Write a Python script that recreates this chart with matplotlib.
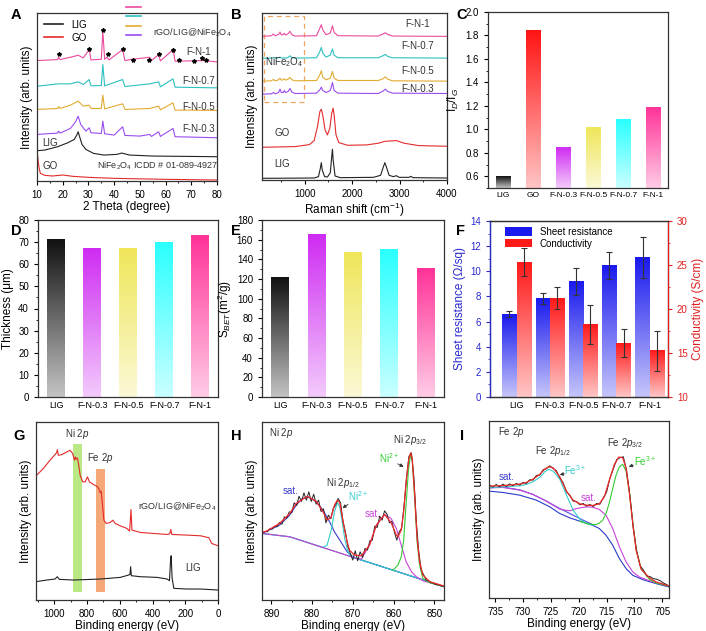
import matplotlib as mpl
mpl.use('Agg')

mpl.rcParams['font.family'] = ['Liberation Sans', 'DejaVu Sans']
mpl.rcParams['font.size'] = 7
mpl.rcParams['mathtext.fontset'] = 'custom'
mpl.rcParams['mathtext.rm'] = 'Liberation Sans'
mpl.rcParams['mathtext.it'] = 'Liberation Sans:italic'
mpl.rcParams['axes.linewidth'] = 0.9
mpl.rcParams['axes.edgecolor'] = '#333333'
mpl.rcParams['xtick.direction'] = 'out'
mpl.rcParams['ytick.direction'] = 'out'
mpl.rcParams['xtick.major.size'] = 3
mpl.rcParams['ytick.major.size'] = 3
mpl.rcParams['xtick.minor.size'] = 1.5
mpl.rcParams['ytick.minor.size'] = 1.5
mpl.rcParams['xtick.labelsize'] = 7
mpl.rcParams['ytick.labelsize'] = 7
mpl.rcParams['axes.labelsize'] = 8.5

import matplotlib.pyplot as plt
import numpy as np
from matplotlib.patches import Rectangle, Patch
from matplotlib.lines import Line2D
from matplotlib.ticker import AutoMinorLocator, MultipleLocator

#----------colors----------#
c_lig = '#222222'
c_go = '#e32b2b'
c_03 = '#9a4cf0'
c_05 = '#e2ab30'
c_07 = '#2cc0c0'
c_1 = '#ea4a9c'

bar_cols = {'LIG': '#111111', 'GO': '#ff1414', 'F-N-0.3': '#cf2cf2',
            'F-N-0.5': '#efe65a', 'F-N-0.7': '#2affff', 'F-N-1': '#ff3399'}

#----------A: XRD----------#
xrd_go_x = [10, 10.3, 10.8, 11.3, 13, 16, 20, 24, 30, 40, 60, 80]
xrd_go_y = [93, 70, 40, 23, 17, 15, 18, 14, 11, 8, 5, 3]
xrd_lig_x = [10, 13, 18, 22, 24.5, 25.6, 26, 26.5, 27.5, 29, 32, 36, 41, 43, 46, 55, 80]
xrd_lig_y = [91, 93, 103, 115, 125, 140, 148, 135, 110, 95, 83, 78, 80, 84, 78, 75, 73]
xrd_03_x = [10, 18, 18.4, 19, 23, 25, 26, 27, 29, 30.3, 31, 35, 35.6, 36.3, 40, 43.3, 44.2, 50, 53.8, 54.5, 57.3, 58, 62.9, 63.7, 70, 80]
xrd_03_y = [140, 144, 150, 144, 158, 178, 195, 170, 150, 160, 145, 143, 180, 142, 138, 163, 137, 135, 140, 134, 148, 134, 158, 133, 132, 130]
xrd_05_x = [10, 18, 18.4, 19, 23, 26, 28, 30.3, 31, 35, 35.6, 36.3, 43.3, 44.2, 53.8, 57.3, 58, 62.9, 63.7, 70, 80]
xrd_05_y = [215, 218, 224, 218, 228, 240, 225, 228, 218, 218, 258, 217, 232, 215, 218, 225, 214, 235, 213, 213, 212]
xrd_07_x = [10, 18.4, 23, 26, 28, 30.3, 31, 35, 35.6, 36.3, 43.3, 44.2, 53.8, 57.3, 58, 62.9, 63.7, 80]
xrd_07_y = [285, 292, 292, 298, 290, 305, 286, 287, 350, 286, 305, 284, 292, 298, 283, 307, 282, 280]
xrd_1_x = [10, 18, 18.4, 19, 23, 26, 28, 30.3, 31, 35, 35.6, 36.3, 37.2, 38, 43.3, 44.2, 47, 53.8, 54.5, 57.3, 58, 62.9, 63.7, 75, 80]
xrd_1_y = [362, 365, 372, 365, 372, 378, 370, 395, 364, 366, 450, 366, 372, 364, 395, 362, 366, 372, 362, 380, 361, 395, 360, 362, 358]
star_x = [18.7, 30.2, 35.6, 37.5, 43.3, 47.2, 53.4, 57.3, 62.9, 65.4, 71.2, 74.3, 75.7]
star_y = [381, 398, 455, 381, 398, 365, 365, 381, 395, 363, 360, 371, 363]

#----------B: Raman----------#
ram_lig_x = [100, 1200, 1290, 1330, 1350, 1370, 1420, 1480, 1540, 1570, 1585, 1600, 1640, 1750, 2450, 2600, 2660, 2690, 2720, 2780, 2870, 2930, 2990, 3200, 3240, 3280, 4000]
ram_lig_y = [5, 6, 10, 35, 52, 30, 10, 9, 22, 70, 92, 60, 12, 7, 8, 14, 40, 52, 40, 14, 10, 13, 8, 8, 11, 7, 6]
ram_go_x = [100, 800, 1100, 1200, 1270, 1320, 1350, 1380, 1430, 1480, 1530, 1570, 1600, 1620, 1660, 1720, 1900, 2300, 2550, 2700, 2930, 3100, 3400, 4000]
ram_go_y = [98, 100, 106, 118, 160, 205, 212, 195, 150, 135, 155, 200, 215, 195, 135, 112, 104, 105, 110, 116, 118, 110, 103, 101]
ram_fn_x = [100, 300, 340, 380, 450, 480, 510, 550, 570, 600, 650, 690, 730, 800, 1250, 1320, 1350, 1380, 1450, 1540, 1585, 1620, 1700, 2550, 2650, 2700, 2750, 2850, 4000]
ram_03_y = [257, 258, 262, 258, 262, 272, 262, 262, 268, 262, 265, 274, 263, 259, 260, 270, 278, 268, 262, 268, 292, 268, 260, 259, 266, 272, 265, 260, 259]
ram_05_y = [296, 297, 301, 297, 300, 305, 299, 300, 303, 299, 302, 307, 300, 297, 298, 315, 327, 308, 300, 305, 325, 305, 298, 298, 303, 309, 302, 297, 296]
ram_07_y = [364, 365, 366, 365, 366, 368, 365, 365, 366, 365, 367, 372, 366, 365, 366, 385, 397, 380, 368, 374, 392, 374, 366, 366, 372, 376, 370, 366, 365]
ram_1_y = [430, 432, 437, 432, 436, 443, 434, 436, 439, 434, 438, 445, 435, 431, 432, 455, 465, 450, 435, 440, 462, 442, 432, 431, 437, 441, 436, 431, 430]

#----------C: ID/IG----------#
idig_names = ['LIG', 'GO', 'F-N-0.3', 'F-N-0.5', 'F-N-0.7', 'F-N-1']
idig_vals = [0.60, 1.84, 0.845, 1.015, 1.08, 1.185]

#----------D, E, F----------#
samples = ['LIG', 'F-N-0.3', 'F-N-0.5', 'F-N-0.7', 'F-N-1']
thickness = [71, 67, 67, 70, 73]
sbet = [122, 165, 146.5, 149.5, 131]
sheet_res = [6.58, 7.85, 9.22, 10.46, 11.1]
sheet_err = [0.23, 0.46, 1.07, 1.11, 1.6]
conduct = [25.3, 21.2, 18.26, 16.1, 15.25]
conduct_err = [1.6, 1.25, 2.2, 1.6, 2.25]

#----------G: XPS survey----------#
xps_nf_x = [1112.5, 1067.5, 1026.6, 995.9, 985.7, 981.6, 975.5, 955.0, 924.3, 903.9, 887.5, 877.3, 871.2, 867.1, 858.9, 850.7, 842.5, 826.2, 811.9, 797.5, 785.3, 760.7, 740.3, 728.0, 719.8, 713.7, 705.5, 697.3, 683.0, 658.5, 642.1, 627.8, 597.1, 556.2, 539.9, 531.7, 525.6, 474.4, 392.6, 310.8, 294.5, 288.3, 282.2, 188.1, 106.4, 55.2, 38.9, 0]
xps_nf_y = [373, 395, 420, 437, 443, 452, 435, 437, 445, 450, 440, 420, 430, 423, 427, 405, 375, 355, 355, 370, 355, 347, 342, 335, 323, 327, 285, 240, 230, 233, 240, 230, 223, 215, 207, 272, 210, 203, 200, 197, 199, 212, 197, 195, 193, 187, 170, 163]
xps_lig_x = [1112.5, 1047, 996, 981.6, 969.3, 883.4, 719.8, 597.1, 546, 537.8, 533.7, 529.7, 474.4, 372.2, 310.8, 296.5, 290.4, 286.3, 280.2, 270, 188.1, 106.4, 0]
xps_lig_y = [55, 60, 63, 70, 62, 60, 63, 68, 75, 77, 100, 73, 70, 68, 63, 58, 115, 133, 65, 35, 33, 33, 30]

#----------H: Ni 2p----------#
ni_bg_x = [892.3, 885.5, 847.6]
ni_bg_y = [200, 190, 40]
ni_sat1_x = [892.3, 888.0, 885.5, 883.9, 882.6, 881.2, 880.2, 879.0, 877.3, 875.7, 874.5, 873.2, 871.4, 870.0, 869.1, 847.6]
ni_sat1_y = [200, 225, 255, 285, 303, 310, 305, 295, 270, 235, 205, 180, 145, 130, 125, 40]
ni_p12_x = [892.3, 885.5, 877.3, 876.3, 875.3, 874.5, 873.8, 873.2, 872.6, 872.0, 871.4, 870.8, 869.1, 847.6]
ni_p12_y = [200, 190, 158, 165, 210, 265, 293, 280, 235, 185, 155, 135, 125, 40]
ni_sat2_x = [892.3, 885.5, 869.1, 867.9, 865.9, 864.2, 862.2, 860.6, 859.3, 858.1, 856.9, 855.6, 854.4, 852.8, 851.1, 847.6]
ni_sat2_y = [200, 190, 125, 123, 165, 225, 257, 245, 215, 165, 115, 85, 70, 58, 52, 40]
ni_p32_x = [860.1, 858.9, 858.1, 857.5, 856.9, 856.3, 855.8, 855.4, 854.8, 854.2, 853.6, 852.8, 851.1, 847.6]
ni_p32_y = [90, 105, 130, 180, 290, 395, 437, 420, 305, 175, 105, 65, 52, 40]
ni_fit_x = [892.3, 891.2, 888.0, 885.5, 883.9, 881.2, 879.0, 877.3, 876.3, 875.3, 874.5, 873.8, 873.2, 872.6, 872.0, 871.4, 870.8, 869.6, 867.9, 865.9, 864.2, 862.2, 860.6, 859.3, 858.9, 858.1, 857.5, 856.9, 856.3, 855.8, 855.4, 854.8, 854.2, 853.6, 852.8, 851.1, 847.6]
ni_fit_y = [203, 207, 230, 260, 290, 312, 297, 265, 240, 250, 285, 300, 293, 250, 210, 175, 150, 135, 133, 165, 225, 257, 233, 195, 190, 210, 265, 355, 420, 442, 425, 315, 185, 115, 75, 55, 42]
ni_raw_x = [892.3, 891.6, 891.0, 890.4, 889.8, 889.2, 888.6, 888.0, 887.4, 886.8, 886.2, 885.6, 885.0, 884.4, 883.8, 883.2, 882.6, 882.0, 881.4, 880.8, 880.2, 879.6, 879.0, 878.4, 877.8, 877.2, 876.6, 876.0, 875.4, 874.8, 874.2, 873.6, 873.0, 872.4, 871.8, 871.2, 870.6, 870.0, 869.4, 868.8, 868.2, 867.6, 867.0, 866.4, 865.8, 865.2, 864.6, 864.0, 863.4, 862.8, 862.2, 861.6, 861.0, 860.4, 859.8, 859.2, 858.6, 858.0, 857.4, 856.8, 856.2, 855.6, 855.0, 854.4, 853.8, 853.2, 852.6, 852.0, 851.4, 850.8, 850.2, 849.6, 849.0, 848.4, 847.8]
ni_raw_y = [200, 206, 205, 214, 213, 222, 220, 233, 228, 250, 246, 265, 262, 292, 284, 312, 296, 322, 300, 325, 296, 318, 288, 300, 266, 274, 232, 255, 244, 275, 286, 305, 292, 236, 204, 160, 140, 120, 148, 118, 145, 128, 155, 150, 178, 180, 222, 218, 252, 240, 268, 258, 232, 236, 205, 180, 205, 216, 285, 368, 432, 442, 370, 236, 145, 90, 76, 60, 58, 52, 51, 46, 46, 43, 41]

#----------I: Fe 2p----------#
fe_bg_x = [736.1, 733.6, 730.6, 727.6, 725.2, 723.4, 721.6, 719.8, 717.5, 716.3, 715.1, 713.9, 712.7, 711.5, 710.3, 708.5, 706.1, 703.8]
fe_bg_y = [320, 316, 308, 293, 273, 253, 240, 230, 218, 208, 188, 158, 118, 88, 68, 55, 43, 33]
fe_sat1_x = [736.1, 733.6, 730.6, 728.2, 725.8, 723.4, 721.0, 719.2, 717.5]
fe_sat1_y = [330, 332, 324, 310, 290, 268, 248, 233, 220]
fe_sat2_x = [736.1, 733.6, 730.6, 728.2, 725.8, 723.4, 721.6, 720.4, 718.7, 717.5, 716.3, 715.1, 713.9, 712.7, 711.5, 710.3, 709.1, 707.9, 706.1, 703.8]
fe_sat2_y = [330, 331, 323, 310, 290, 266, 261, 268, 273, 272, 265, 248, 208, 153, 108, 78, 63, 55, 45, 36]
fe_p12_x = [736.1, 733.6, 730.6, 729.4, 728.2, 727.0, 726.1, 725.4, 724.6, 723.4, 722.2, 721.0, 719.8, 718.6, 717.5]
fe_p12_y = [330, 333, 336, 340, 348, 361, 378, 385, 380, 356, 308, 263, 236, 223, 218]
fe_p32_x = [719.8, 718.6, 717.5, 716.9, 716.3, 715.7, 715.1, 714.5, 713.9, 713.3, 712.7, 712.1, 711.5, 710.9, 710.3, 709.7, 708.8, 707.3, 706.1, 703.8]
fe_p32_y = [230, 223, 220, 220, 224, 233, 253, 286, 328, 368, 393, 400, 380, 318, 228, 148, 88, 56, 45, 35]
fe_fit_x = [736.1, 734.4, 732.4, 730.6, 729.4, 728.2, 727.0, 726.1, 725.4, 724.6, 723.4, 722.2, 721.0, 719.8, 718.6, 717.5, 716.3, 715.4, 714.5, 713.6, 712.8, 712.1, 711.5, 710.9, 710.3, 709.7, 708.8, 707.3, 706.1, 703.8]
fe_fit_y = [335, 336, 338, 341, 346, 356, 370, 386, 393, 390, 363, 320, 293, 282, 278, 277, 282, 303, 353, 400, 422, 420, 388, 313, 223, 143, 86, 60, 48, 36]
fe_raw_x = [736.0, 735.4, 734.8, 734.2, 733.6, 733.0, 732.4, 731.8, 731.2, 730.6, 730.0, 729.4, 728.8, 728.2, 727.6, 727.0, 726.4, 725.8, 725.2, 724.6, 724.0, 723.4, 722.8, 722.2, 721.6, 721.0, 720.4, 719.8, 719.2, 718.6, 718.0, 717.4, 716.8, 716.2, 715.6, 715.0, 714.4, 713.8, 713.2, 712.6, 712.0, 711.4, 710.8, 710.2, 709.6, 709.0, 708.4, 707.8, 707.2, 706.6, 706.0, 705.4, 704.8, 704.2, 703.8]
fe_raw_y = [338, 332, 340, 333, 341, 334, 342, 336, 343, 338, 346, 343, 354, 353, 367, 368, 384, 387, 396, 388, 381, 360, 345, 318, 308, 290, 289, 279, 283, 275, 280, 274, 283, 281, 300, 317, 359, 386, 414, 420, 423, 381, 304, 207, 140, 97, 84, 66, 64, 58, 56, 52, 45, 40, 35]

#----------helpers----------#
def grad_bars(ax, xs, vals, width, colors, lo=0.0):
	bars = ax.bar(xs, vals, width, color='none', edgecolor='none', zorder=2)
	t = np.linspace(0, 1, 128)[:, None]
	for b, c in zip(bars, colors):
		rgb = np.array(mpl.colors.to_rgb(c))
		light = rgb + (1 - rgb)*0.75
		img = light*(1 - t) + rgb*t
		y0 = max(b.get_y(), lo)
		top = b.get_y() + b.get_height()
		ax.imshow(img[:, None, :], extent=[b.get_x(), b.get_x() + b.get_width(), y0, top],
				  origin='lower', aspect='auto', zorder=2, interpolation='bilinear')
	return bars

fig = plt.figure(figsize=(7.06, 6.31), dpi=100)

def axes_px(l, t, r, b):
	return fig.add_axes([l/706, 1 - b/631, (r - l)/706, (b - t)/631])

def panel_letter(x, y, s):
	fig.text(x/706, 1 - y/631, s, fontsize=10.5, fontweight='bold', ha='left', va='center')

#----------A----------#
ax = axes_px(37, 13, 217, 181)
ax.plot(xrd_go_x, xrd_go_y, color=c_go, lw=0.8)
ax.plot(xrd_lig_x, xrd_lig_y, color=c_lig, lw=0.8)
ax.plot(xrd_03_x, xrd_03_y, color=c_03, lw=0.8)
ax.plot(xrd_05_x, xrd_05_y, color=c_05, lw=0.8)
ax.plot(xrd_07_x, xrd_07_y, color=c_07, lw=0.8)
ax.plot(xrd_1_x, xrd_1_y, color=c_1, lw=0.8)
ax.plot(star_x, star_y, ls='none', marker='*', color='k', ms=3)
ax.set_xlim(10, 80)
ax.set_ylim(0, 505)
ax.set_yticks([])
ax.xaxis.set_major_locator(MultipleLocator(10))
ax.xaxis.set_minor_locator(AutoMinorLocator(2))
ax.set_xlabel('2 Theta (degree)', labelpad=1)
ax.set_ylabel('Intensity (arb. units)', labelpad=3)
for lab, yy in [('F-N-1', 388), ('F-N-0.7', 300), ('F-N-0.5', 223), ('F-N-0.3', 155)]:
	ax.text(72.8, yy, lab, ha='center', va='center', fontsize=7, color='#333333')
ax.text(15, 113, 'LIG', ha='center', va='center', fontsize=7, color='#333333')
ax.text(15.2, 46, 'GO', ha='center', va='center', fontsize=7, color='#333333')
ax.text(57, 45, 'NiFe$_2$O$_4$ ICDD # 01-089-4927', ha='center', va='center', fontsize=6.5, color='#333333')
leg1 = ax.legend(handles=[Line2D([], [], color=c_lig, lw=1.2), Line2D([], [], color=c_go, lw=1.2)],
				 labels=['LIG', 'GO'], loc='upper left', bbox_to_anchor=(0.0, 1.0), frameon=False,
				 fontsize=7, handlelength=2.0, labelspacing=0.3, borderaxespad=0.3)
ax.add_artist(leg1)
ax.legend(handles=[Line2D([], [], color=c, lw=1.2) for c in [c_1, c_07, c_05, c_03]],
		  labels=['', '', '', ''], loc='upper left', bbox_to_anchor=(0.49, 1.055),
		  frameon=False, fontsize=5.5, handlelength=2.0, labelspacing=0.25, borderpad=0.1,
		  borderaxespad=0, handletextpad=0)
ax.text(0.645, 0.885, 'rGO/LIG@NiFe$_2$O$_4$', transform=ax.transAxes, ha='left', va='center',
		fontsize=6.5, color='#333333')

#----------B----------#
ax = axes_px(262, 13, 447, 180)
ax.plot(ram_lig_x, ram_lig_y, color=c_lig, lw=0.8)
ax.plot(ram_go_x, ram_go_y, color=c_go, lw=0.8)
ax.plot(ram_fn_x, ram_03_y, color=c_03, lw=0.8)
ax.plot(ram_fn_x, ram_05_y, color=c_05, lw=0.8)
ax.plot(ram_fn_x, ram_07_y, color=c_07, lw=0.8)
ax.plot(ram_fn_x, ram_1_y, color=c_1, lw=0.8)
ax.add_patch(Rectangle((150, 235), 830, 257, fill=False, ls=(0, (4, 3)), lw=0.9, edgecolor='#f2a55c'))
ax.text(560, 352, 'NiFe$_2$O$_4$', ha='center', va='center', fontsize=7, color='#333333')
for lab, yy in [('F-N-1', 468), ('F-N-0.7', 400), ('F-N-0.5', 327), ('F-N-0.3', 272)]:
	ax.text(3370, yy, lab, ha='center', va='center', fontsize=7, color='#333333')
ax.text(517, 142, 'GO', ha='center', va='center', fontsize=7, color='#333333')
ax.text(517, 47, 'LIG', ha='center', va='center', fontsize=7, color='#333333')
ax.set_xlim(100, 4000)
ax.set_ylim(0, 500)
ax.set_yticks([])
ax.xaxis.set_major_locator(MultipleLocator(1000))
ax.xaxis.set_minor_locator(AutoMinorLocator(2))
ax.set_xlabel('Raman shift (cm$^{-1}$)', labelpad=1)
ax.set_ylabel('Intensity (arb. units)', labelpad=3)

#----------C----------#
ax = axes_px(488, 12, 668, 188)
grad_bars(ax, range(len(idig_names)), idig_vals, 0.5, [bar_cols[n] for n in idig_names], lo=0.5)
ax.set_xlim(-0.5, 5.5)
ax.set_ylim(0.5, 2.0)
ax.set_xticks(range(len(idig_names)))
ax.set_xticklabels(idig_names, fontsize=6)
ax.tick_params(axis='x', length=0, pad=3)
ax.yaxis.set_major_locator(MultipleLocator(0.2))
ax.yaxis.set_minor_locator(AutoMinorLocator(2))
ax.set_ylabel('I$_D$/I$_G$', labelpad=3)

#----------D----------#
ax = axes_px(38, 220, 218, 397)
grad_bars(ax, range(len(samples)), thickness, 0.49, [bar_cols[n] for n in samples])
ax.set_xlim(-0.5, 4.5)
ax.set_ylim(0, 80)
ax.set_xticks(range(len(samples)))
ax.set_xticklabels(samples, fontsize=6.5)
ax.tick_params(axis='x', length=0, pad=3)
ax.yaxis.set_major_locator(MultipleLocator(10))
ax.yaxis.set_minor_locator(AutoMinorLocator(2))
ax.set_ylabel('Thickness (μm)', labelpad=3)

#----------E----------#
ax = axes_px(262, 220, 444, 397)
grad_bars(ax, range(len(samples)), sbet, 0.49, [bar_cols[n] for n in samples])
ax.set_xlim(-0.5, 4.5)
ax.set_ylim(0, 180)
ax.set_xticks(range(len(samples)))
ax.set_xticklabels(samples, fontsize=6.5)
ax.tick_params(axis='x', length=0, pad=3)
ax.yaxis.set_major_locator(MultipleLocator(20))
ax.yaxis.set_minor_locator(AutoMinorLocator(2))
ax.set_ylabel('S$_{BET}$(m$^2$/g)', labelpad=2)

#----------F----------#
c_blue = '#1a1aee'
c_red = '#ff1a1a'
ax = axes_px(490, 221, 668, 397)
ax2 = ax.twinx()
xs = np.arange(len(samples))
bw = 0.43
grad_bars(ax, xs - bw/2, sheet_res, bw, [c_blue]*5)
ax.errorbar(xs - bw/2, sheet_res, yerr=sheet_err, fmt='none', ecolor='#333333', elinewidth=0.8, capsize=2, capthick=0.8, zorder=3)
grad_bars(ax2, xs + bw/2, conduct, bw, [c_red]*5, lo=10)
ax2.errorbar(xs + bw/2, conduct, yerr=conduct_err, fmt='none', ecolor='#333333', elinewidth=0.8, capsize=2, capthick=0.8, zorder=3)
ax.set_xlim(-0.8, 4.55)
ax.set_ylim(0, 14)
ax2.set_ylim(10, 30)
ax.set_xticks(xs)
ax.set_xticklabels(samples, fontsize=6.5)
ax.tick_params(axis='x', length=0, pad=3)
ax.yaxis.set_major_locator(MultipleLocator(2))
ax.yaxis.set_minor_locator(AutoMinorLocator(2))
ax2.yaxis.set_major_locator(MultipleLocator(5))
ax2.yaxis.set_minor_locator(AutoMinorLocator(2))
ax.tick_params(axis='y', colors='#2a2ad0', which='both')
ax2.tick_params(axis='y', colors='#e02020', which='both')
ax2.spines['left'].set_color('#2a2ad0')
ax2.spines['right'].set_color('#e02020')
ax.set_ylabel('Sheet resistance (Ω/sq)', color='#2a2ad0', labelpad=3)
ax2.set_ylabel('Conductivity (S/cm)', color='#e02020', labelpad=3)
ax2.legend(handles=[Patch(facecolor=c_blue), Patch(facecolor=c_red)], labels=['Sheet resistance', 'Conductivity'],
		   loc='upper left', bbox_to_anchor=(0.05, 1.0), frameon=False, fontsize=7, handlelength=2.8,
		   handleheight=0.9, labelspacing=0.2, borderaxespad=0.2)

#----------G----------#
ax = axes_px(36, 422, 218, 600)
ax.axvspan(828, 888, ymin=0.047, ymax=0.878, color='#b9e884', lw=0, zorder=1)
ax.axvspan(689, 744, ymin=0.047, ymax=0.738, color='#f4a878', lw=0, zorder=1)
ax.plot(xps_nf_x, xps_nf_y, color=c_go, lw=0.8, zorder=2)
ax.plot(xps_lig_x, xps_lig_y, color=c_lig, lw=0.8, zorder=2)
ax.text(863, 500, 'Ni 2$p$', ha='center', va='center', fontsize=7, color='#333333')
ax.text(718, 427, 'Fe 2$p$', ha='center', va='center', fontsize=7, color='#333333')
ax.text(250, 280, 'rGO/LIG@NiFe$_2$O$_4$', ha='center', va='center', fontsize=6.5, color='#333333')
ax.text(150, 97, 'LIG', ha='center', va='center', fontsize=7, color='#333333')
ax.set_xlim(1112, 0)
ax.set_ylim(0, 535)
ax.set_yticks([])
ax.xaxis.set_major_locator(MultipleLocator(200))
ax.xaxis.set_minor_locator(AutoMinorLocator(2))
ax.set_xlabel('Binding energy (eV)', labelpad=1)
ax.set_ylabel('Intensity (arb. units)', labelpad=3)

#----------H----------#
ax = axes_px(262, 422, 444, 600)
ax.plot(ni_bg_x, ni_bg_y, color='#3aa8b8', lw=0.8)
ax.plot(ni_sat1_x, ni_sat1_y, color='#3a3ad0', lw=0.8)
ax.plot(ni_p12_x, ni_p12_y, color='#33cccc', lw=0.8)
ax.plot(ni_sat2_x, ni_sat2_y, color='#c844d8', lw=0.8)
ax.plot(ni_p32_x, ni_p32_y, color='#33cc33', lw=0.8)
ax.plot(ni_raw_x, ni_raw_y, color='#222222', lw=0.7)
ax.plot(ni_fit_x, ni_fit_y, color='#ee2a2a', lw=0.9)
ax.text(0.04, 0.94, 'Ni 2$p$', transform=ax.transAxes, ha='left', va='center', fontsize=7, color='#333333')
ax.text(855.9, 482, 'Ni 2$p_{3/2}$', ha='center', va='center', fontsize=7, color='#333333')
ax.text(872.4, 352, 'Ni 2$p_{1/2}$', ha='center', va='center', fontsize=7, color='#333333')
ax.text(861.1, 425, 'Ni$^{2+}$', ha='center', va='center', fontsize=7, color='#33cc33')
ax.text(868.7, 312, 'Ni$^{2+}$', ha='center', va='center', fontsize=7, color='#33cccc')
ax.text(885.3, 327, 'sat.', ha='center', va='center', fontsize=7, color='#3a3ad0')
ax.text(865.1, 259, 'sat.', ha='center', va='center', fontsize=7, color='#c844d8')
ax.annotate('', xy=(856.9, 397), xytext=(859.6, 413), arrowprops=dict(arrowstyle='-|>', color='#333333', lw=0.6, mutation_scale=5))
ax.annotate('', xy=(873.1, 272), xytext=(870.6, 292), arrowprops=dict(arrowstyle='-|>', color='#333333', lw=0.6, mutation_scale=5))
ax.set_xlim(892.3, 847.6)
ax.set_ylim(0, 535)
ax.set_yticks([])
ax.xaxis.set_major_locator(MultipleLocator(10))
ax.xaxis.set_minor_locator(AutoMinorLocator(2))
ax.set_xlabel('Binding energy (eV)', labelpad=1)
ax.set_ylabel('Intensity (arb. units)', labelpad=3)

#----------I----------#
ax = axes_px(489, 421, 669, 598)
ax.plot(fe_bg_x, fe_bg_y, color='#2a3ac8', lw=0.8)
ax.plot(fe_sat1_x, fe_sat1_y, color='#5050e0', lw=0.8)
ax.plot(fe_sat2_x, fe_sat2_y, color='#c844d8', lw=0.8)
ax.plot(fe_p12_x, fe_p12_y, color='#33cccc', lw=0.8)
ax.plot(fe_p32_x, fe_p32_y, color='#33cc33', lw=0.8)
ax.plot(fe_raw_x, fe_raw_y, color='#222222', lw=0.7)
ax.plot(fe_fit_x, fe_fit_y, color='#ee2a2a', lw=0.9)
ax.text(0.05, 0.94, 'Fe 2$p$', transform=ax.transAxes, ha='left', va='center', fontsize=7, color='#333333')
ax.text(724.6, 440, 'Fe 2$p_{1/2}$', ha='center', va='center', fontsize=7, color='#333333')
ax.text(711.6, 465, 'Fe 2$p_{3/2}$', ha='center', va='center', fontsize=7, color='#333333')
ax.text(720.6, 382, 'Fe$^{3+}$', ha='center', va='center', fontsize=7, color='#33cccc')
ax.text(708.1, 410, 'Fe$^{3+}$', ha='center', va='center', fontsize=7, color='#33cc33')
ax.text(733.0, 362, 'sat.', ha='center', va='center', fontsize=7, color='#3a3ad0')
ax.text(718.2, 298, 'sat.', ha='center', va='center', fontsize=7, color='#c844d8')
ax.annotate('', xy=(723.9, 368), xytext=(722.1, 373), arrowprops=dict(arrowstyle='-|>', color='#333333', lw=0.6, mutation_scale=5))
ax.annotate('', xy=(711.5, 391), xytext=(709.7, 400), arrowprops=dict(arrowstyle='-|>', color='#333333', lw=0.6, mutation_scale=5))
ax.set_xlim(736.1, 703.8)
ax.set_ylim(0, 530)
ax.set_yticks([])
ax.xaxis.set_major_locator(MultipleLocator(5))
ax.xaxis.set_minor_locator(AutoMinorLocator(2))
ax.set_xlabel('Binding energy (eV)', labelpad=1)
ax.set_ylabel('Intensity (arb. units)', labelpad=3)

#----------panel letters----------#
for s, x, y in [('A', 11, 15), ('B', 231, 15), ('C', 456, 15), ('D', 11, 231), ('E', 231, 231),
				('F', 456, 231), ('G', 13, 436), ('H', 231, 436), ('I', 460, 436)]:
	panel_letter(x, y, s)

plt.savefig('out.png', dpi=100)
